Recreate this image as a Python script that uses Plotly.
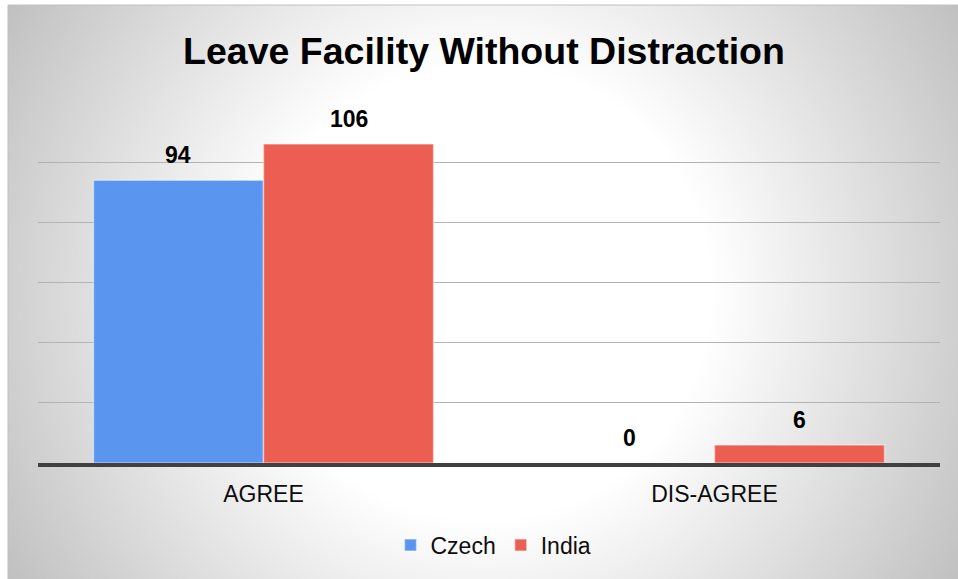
import base64
import struct
import zlib

import numpy as np
import plotly.graph_objects as go

# ---------------- data ----------------
categories = ["AGREE", "DIS-AGREE"]
series_names = ["Czech", "India"]
czech_values = [94, 0]
india_values = [106, 6]
title_text = "Leave Facility Without Distraction"

# ---------------- geometry / style ----------------
W, H = 958, 579
L, R, T, B = 38, 18, 102, 116
PW, PH = W - L - R, H - T - B
BARGAP = 0.246
FONT = "Liberation Sans, Arial, sans-serif"
colors = ["#5A96F0", "#EC5E52"]


def make_png(arr):
    h, w = arr.shape
    raw = b"".join(b"\x00" + arr[i].tobytes() for i in range(h))

    def chunk(tag, data):
        c = struct.pack(">I", len(data)) + tag + data
        return c + struct.pack(">I", zlib.crc32(tag + data) & 0xFFFFFFFF)

    png = b"\x89PNG\r\n\x1a\n"
    png += chunk(b"IHDR", struct.pack(">IIBBBBB", w, h, 8, 0, 0, 0, 0))
    png += chunk(b"IDAT", zlib.compress(raw, 9))
    png += chunk(b"IEND", b"")
    return "data:image/png;base64," + base64.b64encode(png).decode()


# radial background gradient (chart area 8..958 x 5..579)
bx0, by0, bx1, by1 = 8, 5, 958, 579
bw, bh = bx1 - bx0, by1 - by0
yy, xx = np.mgrid[0:bh, 0:bw]
cx, cy = (W / 2 + 4) - bx0, (H / 2 + 2) - by0
dist = np.sqrt((xx - cx) ** 2 + (yy - cy) ** 2)
r0, r1 = 230.0, 560.0
frac = np.clip((dist - r0) / (r1 - r0), 0, 1)
gray = (255 - frac * 63).astype(np.uint8)
bg_uri = make_png(gray)


def px_to_paper_x(px):
    return (px - L) / PW


def px_to_paper_y(py):
    return (H - B - py) / PH


fig = go.Figure()
for name, vals, col in zip(series_names, [czech_values, india_values], colors):
    fig.add_trace(
        go.Bar(
            name=name,
            x=categories,
            y=vals,
            marker=dict(color=col, line=dict(color="rgba(255,255,255,0.45)", width=1.5)),
        )
    )

# data labels
bar_w = (1 - BARGAP) / 2
annotations = []
for j, vals in enumerate([czech_values, india_values]):
    for i, v in enumerate(vals):
        annotations.append(
            dict(
                x=i + (j - 0.5) * bar_w,
                y=v,
                xref="x",
                yref="y",
                text=f"<b>{v}</b>",
                showarrow=False,
                yanchor="bottom",
                yshift=10,
                font=dict(family=FONT, size=23, color="#000000"),
            )
        )

fig.update_layout(
    width=W,
    height=H,
    margin=dict(l=L, r=R, t=T, b=B, autoexpand=False),
    paper_bgcolor="white",
    plot_bgcolor="rgba(0,0,0,0)",
    barmode="group",
    bargap=BARGAP,
    bargroupgap=0,
    title=dict(
        text=f"<b>{title_text}</b>",
        x=(W / 2 + 5) / W,
        xanchor="center",
        xref="container",
        y=1 - 51 / H,
        yref="container",
        yanchor="middle",
        font=dict(family=FONT, size=37.5, color="#000000"),
    ),
    font=dict(family=FONT, color="#000000"),
    xaxis=dict(
        type="category",
        showline=True,
        linecolor="#404040",
        linewidth=4,
        showgrid=False,
        ticks="",
        tickfont=dict(family=FONT, size=23, color="#0d0d0d"),
        ticklabelstandoff=7,
    ),
    yaxis=dict(
        range=[0, 120],
        dtick=20,
        showgrid=True,
        gridcolor="#b3b3b3",
        gridwidth=1,
        showticklabels=False,
        zeroline=False,
        showline=False,
        ticks="",
    ),
    legend=dict(
        orientation="h",
        x=0.505,
        xanchor="center",
        y=px_to_paper_y(545),
        yanchor="middle",
        font=dict(family=FONT, size=23, color="#0d0d0d"),
        bgcolor="rgba(0,0,0,0)",
        itemwidth=30,
    ),
    annotations=annotations,
    images=[
        dict(
            source=bg_uri,
            xref="paper",
            yref="paper",
            x=px_to_paper_x(bx0),
            y=px_to_paper_y(by0),
            sizex=bw / PW,
            sizey=bh / PH,
            xanchor="left",
            yanchor="top",
            sizing="stretch",
            layer="below",
        )
    ],
    shapes=[
        dict(
            type="rect",
            xref="paper",
            yref="paper",
            x0=px_to_paper_x(bx0),
            x1=px_to_paper_x(bx1 + 2),
            y0=px_to_paper_y(by1 + 2),
            y1=px_to_paper_y(by0),
            line=dict(color="#c0c0c0", width=1),
            fillcolor="rgba(0,0,0,0)",
            layer="below",
        )
    ],
)

fig.write_html(
    "out.html",
    config={"displayModeBar": False, "staticPlot": True},
    post_script="document.body.style.margin='0';document.body.style.overflow='hidden';",
)
